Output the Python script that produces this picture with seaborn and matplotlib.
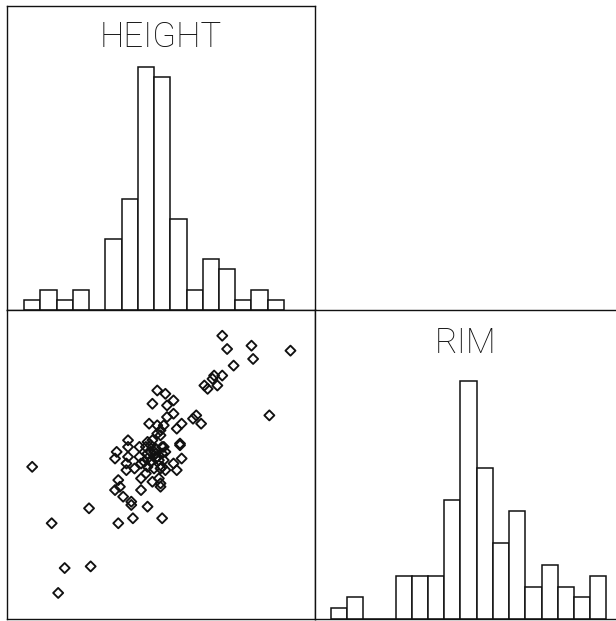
import numpy as np
import pandas as pd
import matplotlib
matplotlib.use("Agg")
import matplotlib.pyplot as plt
import seaborn as sns

# ---- data ----
height_edges = list(range(10, 27))          # 16 bins
height_counts = [1, 2, 1, 2, 0, 7, 11, 24, 23, 9, 2, 5, 4, 1, 2, 1]

rim_edges = list(range(5, 23))              # 17 bins
rim_counts = [1, 2, 0, 0, 4, 4, 4, 11, 22, 14, 7, 10, 3, 5, 3, 2, 4]

height = [22.2, 22.5, 24.0, 24.1, 26.4, 22.9, 22.2, 21.7, 21.6, 21.1, 21.3, 21.9,
          25.1, 18.2, 18.7, 17.9, 19.2, 18.8, 19.2, 18.8, 20.4, 20.6, 20.9, 19.7,
          19.4, 17.7, 18.2, 18.6, 18.4, 18.2, 18.4, 16.4, 17.6, 17.9, 19.6, 19.6,
          16.4, 17.1, 17.5, 17.8, 18.1, 18.5, 18.7, 15.7, 15.6, 16.4, 17.1, 17.6,
          18.0, 18.2, 18.3, 19.7, 16.3, 16.8, 16.3, 17.2, 17.4, 17.6, 18.0, 18.5,
          19.2, 18.7, 19.4, 17.5, 17.2, 17.9, 18.3, 18.4, 18.4, 15.8, 15.9, 15.6,
          16.1, 17.2, 16.6, 16.6, 17.6, 16.7, 15.8, 18.5, 14.0, 11.7, 10.5, 12.5,
          14.1, 12.1, 18.1, 18.5, 18.6, 17.8, 17.6, 18.1, 18.6, 17.8, 18.4]
rim = [21.1, 20.3, 20.5, 19.7, 20.2, 19.3, 18.7, 18.7, 18.5, 18.1, 17.9, 18.1,
       16.3, 17.8, 17.6, 17.0, 17.2, 16.9, 16.4, 16.2, 16.1, 16.3, 15.8, 15.8,
       15.5, 15.8, 15.7, 15.7, 15.4, 15.2, 15.1, 14.8, 14.7, 14.8, 14.6, 14.5,
       14.4, 14.4, 14.4, 14.5, 14.3, 14.4, 14.1, 14.1, 13.7, 13.8, 13.8, 14.0,
       14.1, 13.8, 13.6, 13.7, 13.4, 13.1, 13.0, 13.4, 13.5, 13.2, 13.1, 13.2,
       13.4, 13.0, 13.0, 12.8, 12.5, 12.3, 12.5, 12.2, 12.0, 12.4, 12.0, 11.8,
       11.4, 11.8, 11.1, 10.9, 10.8, 10.1, 9.8, 10.1, 10.7, 9.8, 13.2, 7.1,
       7.2, 5.6, 14.0, 14.0, 14.4, 14.1, 13.7, 13.7, 13.6, 13.5, 13.1]

labels = ["HEIGHT", "RIM"]

# ---- figure ----
sns.set_theme(style="white")
plt.rcParams["font.family"] = ["Roboto", "DejaVu Sans"]

W, H = 616, 621
fig = plt.figure(figsize=(W / 100, H / 100), dpi=100)

def box(x0, y0, x1, y1):
    return [x0 / W, 1 - y1 / H, (x1 - x0) / W, (y1 - y0) / H]

ax_h = fig.add_axes(box(7, 6, 315, 310))
ax_s = fig.add_axes(box(7, 310, 315, 619))
ax_r = fig.add_axes(box(315, 310, 617, 619))

hx = (8.95, 27.91)
rx = (4.03, 22.65)

def centers(edges):
    e = np.asarray(edges, dtype=float)
    return (e[:-1] + e[1:]) / 2

sns.histplot(x=centers(height_edges), weights=height_counts, bins=height_edges,
             ax=ax_h, color="white", edgecolor="#111111", linewidth=1.1, alpha=1)
sns.histplot(x=centers(rim_edges), weights=rim_counts, bins=rim_edges,
             ax=ax_r, color="white", edgecolor="#111111", linewidth=1.1, alpha=1)

df = pd.DataFrame({"HEIGHT": height, "RIM": rim})
sns.scatterplot(data=df, x="HEIGHT", y="RIM", ax=ax_s, marker="D", s=26,
                facecolor="none", edgecolor="#111111", linewidth=1.35)

ax_h.set_xlim(*hx)
ax_h.set_ylim(0, 30)
ax_r.set_xlim(*rx)
ax_r.set_ylim(0, 28.6)
ax_s.set_xlim(*hx)
ax_s.set_ylim(*rx)

for ax in (ax_h, ax_s, ax_r):
    ax.set_xticks([])
    ax.set_yticks([])
    ax.set_xlabel("")
    ax.set_ylabel("")
    ax.set_facecolor("white")
    for sp in ax.spines.values():
        sp.set_color("#111111")
        sp.set_linewidth(1.0)
ax_r.spines["right"].set_visible(False)

ax_h.text(0.5, 0.898, labels[0], transform=ax_h.transAxes, ha="center", va="center",
          fontsize=25, fontweight="light", color="#111111")
ax_r.text(0.5, 0.893, labels[1], transform=ax_r.transAxes, ha="center", va="center",
          fontsize=25, fontweight="light", color="#111111")

fig.savefig("out.png", dpi=100, facecolor="white")
